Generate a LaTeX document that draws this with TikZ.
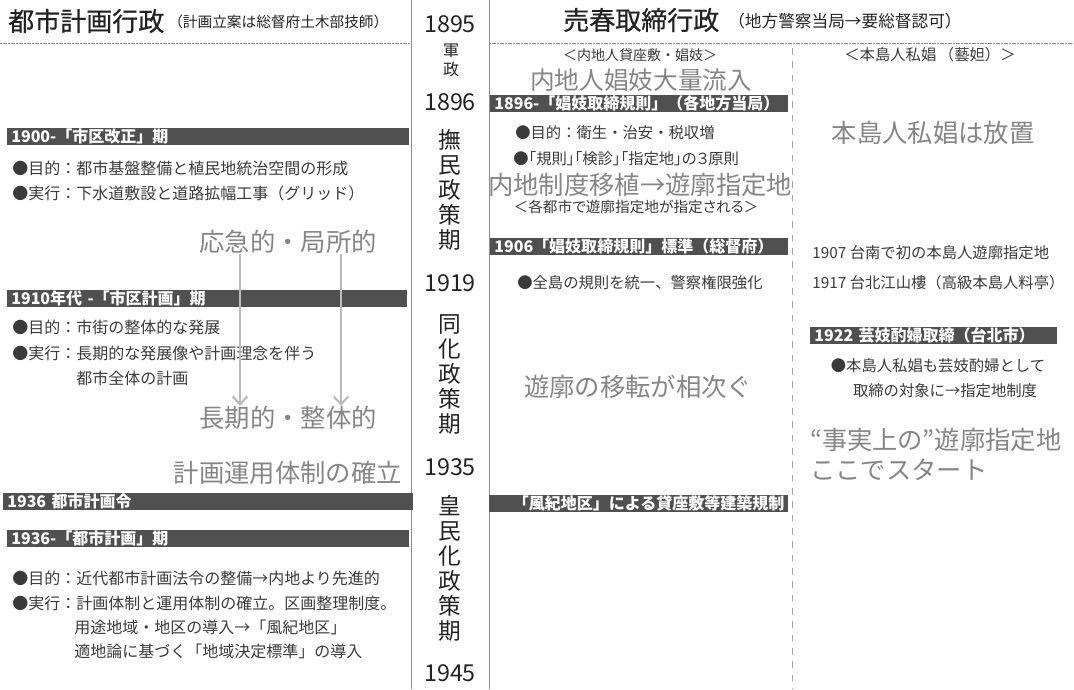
\documentclass[tikz,border=0pt]{standalone}
\usepackage{fontspec}
\setmainfont{Noto Sans CJK JP}
\newfontfamily\pfont[RawFeature=+palt]{Noto Sans CJK JP}
\newfontfamily\medfont[FakeBold=0.6]{Noto Sans CJK JP}
\usetikzlibrary{arrows.meta}
\definecolor{barcol}{HTML}{505050}
\definecolor{bodycol}{HTML}{3A3A3A}
\definecolor{bigcol}{HTML}{858585}
\definecolor{linecol}{HTML}{8E8E8E}
\definecolor{arrcol}{HTML}{BBBBBB}
\definecolor{titlecol}{HTML}{222222}
\begin{document}
\begin{tikzpicture}[x=0.75pt,y=-0.75pt,
  every node/.style={inner sep=0pt},
  titletext/.style={font=\medfont\fontsize{19.5}{22}\selectfont, text=titlecol, anchor=west},
  subtext/.style={font=\fontsize{11}{13}\selectfont, text=titlecol, anchor=west},
  yr/.style={font=\fontsize{17.5}{20}\selectfont, text=titlecol},
  vt/.style={font=\fontsize{17}{18.75}\selectfont, text=titlecol, align=center},
  vs/.style={font=\fontsize{12}{14.25}\selectfont, text=titlecol, align=center},
  body/.style={font=\fontsize{12}{14}\selectfont, text=bodycol, anchor=west},
  rbody/.style={font=\fontsize{11.5}{14}\selectfont, text=bodycol},
  small/.style={font=\fontsize{10.5}{12}\selectfont, text=bodycol},
  big/.style={font=\fontsize{19}{22}\selectfont, text=bigcol},
  barbox/.style={fill=barcol, text=white, font=\bfseries\fontsize{12}{13}\selectfont,
    anchor=north west, inner xsep=3pt, inner ysep=0pt, minimum height=12.75pt, align=left},
  vline/.style={draw=linecol, line width=0.6pt},
  hline/.style={draw=linecol, line width=0.6pt, dash pattern=on 1.5pt off 0.5pt},
  dline/.style={draw=linecol!80, line width=0.6pt, dash pattern=on 5pt off 5pt},
  arr/.style={draw=arrcol, line width=2.2pt, -{Straight Barb[length=6pt,width=11pt,line width=1.6pt]}}
]
\useasboundingbox (0,0) rectangle (1074,689);

% frame lines
\coordinate (lt) at (411,0); \coordinate (lb) at (411,689);
\coordinate (rt) at (489,0); \coordinate (rb) at (489,689);
\coordinate (h1a) at (0,43); \coordinate (h1b) at (411,43);
\coordinate (h2a) at (489,43); \coordinate (h2b) at (1074,43);
\coordinate (dt) at (792,48); \coordinate (db) at (792,689);
\draw[vline] (lt) -- (lb);
\draw[vline] (rt) -- (rb);
\draw[hline] (h1a) -- (h1b);
\draw[hline] (h2a) -- (h2b);
\draw[dline] (dt) -- (db);

% titles
\node[titletext] (t1) at (8,21) {都市計画行政};
\node[subtext] (t1s) at (168,22) {（計画立案は総督府土木部技師）};
\node[titletext] (t2) at (563,20) {売春取締行政};
\node[subtext, font=\fontsize{12.5}{14}\selectfont] (t2s) at (728,21) {（地方警察当局→要総督認可）};

% center timeline
\node[yr] (y1895) at (450,24) {1895};
\node[vs] (gunsei) at (451,60) {軍\\政};
\node[yr] (y1896) at (450,102) {1896};
\node[vt] (bumin) at (450,190) {撫\\民\\政\\策\\期};
\node[yr] (y1919) at (450,283) {1919};
\node[vt] (doka) at (450,375) {同\\化\\政\\策\\期};
\node[yr] (y1935) at (450,467) {1935};
\node[vt] (komin) at (450,568) {皇\\民\\化\\政\\策\\期};
\node[yr] (y1945) at (450,673) {1945};

% left column
\node[barbox, text width=295.5pt] (b1900) at (7,128) {1900-「市区改正」期};
\node[body] (l1) at (12,168) {●目的：都市基盤整備と植民地統治空間の形成};
\node[body] (l2) at (12,193) {●実行：下水道敷設と道路拡幅工事（グリッド）};
\node[big] (ou) at (288,242) {応急的・局所的};
\node[barbox, text width=294pt] (b1910) at (7,290) {1910年代 -「市区計画」期};
\node[body] (l3) at (12,327) {●目的：市街の整体的な発展};
\node[body] (l4) at (12,353) {●実行：長期的な発展像や計画理念を伴う};
\node[body] (l5) at (76,378) {都市全体の計画};
\node[big] (cho) at (288,418) {長期的・整体的};
\coordinate (ax1) at (240,0); \coordinate (ax2) at (341,0);
\draw[arr] (ou.south -| ax1) -- (cho.north -| ax1);
\draw[arr] (ou.south -| ax2) -- (cho.north -| ax2);
\node[big, anchor=east] (kak) at (402,473) {計画運用体制の確立};
\node[barbox, text width=301.5pt] (b1936a) at (3,493) {1936 都市計画令};
\node[barbox, text width=295.5pt] (b1936b) at (7,530) {1936-「都市計画」期};
\node[body] (l6) at (12,578) {●目的：近代都市計画法令の整備→内地より先進的};
\node[body] (l7) at (12,603) {●実行：計画体制と運用体制の確立。区画整理制度。};
\node[body] (l8) at (74,627) {用途地域・地区の導入→「風紀地区」};
\node[body] (l9) at (74,651) {適地論に基づく「地域決定標準」の導入};

% middle column (prostitution control, naichi)
\node[small] (m0) at (640,55) {＜内地人貸座敷・娼妓＞};
\node[big, font=\fontsize{18.5}{22}\selectfont] (m1) at (641,80) {内地人娼妓大量流入};
\node[barbox, text width=217.5pt] (b1896) at (490,95) {1896-「娼妓取締規則」（各地方当局）};
\node[rbody, anchor=west] (m2) at (515,133) {●目的：衛生・治安・税収増};
\node[rbody, anchor=west] (m3) at (513,159) {\pfont ●「規則」「検診」「指定地」の３原則};
\node[big] (m4) at (640,185) {内地制度移植→遊廓指定地};
\node[small, font=\fontsize{11}{13}\selectfont] (m5) at (636,207) {\pfont ＜各都市で遊廓指定地が指定される＞};
\node[barbox, text width=217.5pt] (b1906) at (490,238) {1906「娼妓取締規則」標準（総督府）};
\node[rbody, anchor=west] (m6) at (517,283) {●全島の規則を統一、警察権限強化};
\node[big] (m7) at (638,387) {遊廓の移転が相次ぐ};
\node[barbox, text width=218.25pt, align=right] (bfuki) at (489,495) {「風紀地区」による貸座敷等建築規制};

% right column (hontojin)
\node[small, font=\fontsize{11.5}{13}\selectfont] (r0) at (930,55) {＜本島人私娼\,（藝妲）＞};
\node[big] (r1) at (933,133) {本島人私娼は放置};
\node[rbody, anchor=west] (r2) at (812,253) {1907 台南で初の本島人遊廓指定地};
\node[rbody, anchor=west] (r3) at (812,283) {1917 台北江山樓（高級本島人料亭）};
\node[barbox, text width=179.25pt] (b1922) at (810,327) {1922 芸妓酌婦取締（台北市）};
\node[rbody] (r4) at (938,366) {●本島人私娼も芸妓酌婦として};
\node[rbody] (r5) at (945,391) {取締の対象に→指定地制度};
\node[big, anchor=west] (r6) at (810,440) {\pfont “事実上の”遊廓指定地};
\node[big, anchor=west] (r7) at (810,470) {ここでスタート};
\end{tikzpicture}
\end{document}
